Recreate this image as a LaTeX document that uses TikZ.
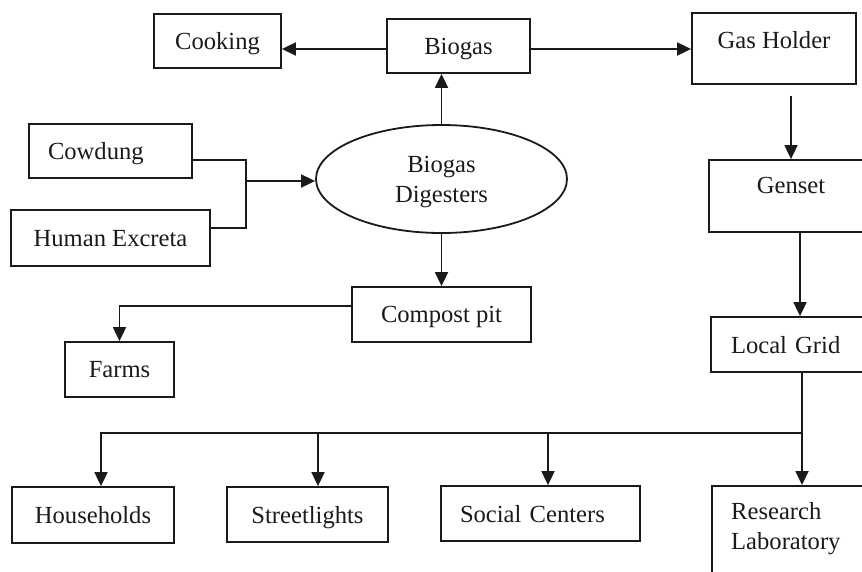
\documentclass[tikz,border=0pt]{standalone}
\usepackage{fontspec}
\setmainfont{Liberation Serif}
\usetikzlibrary{arrows.meta,shapes.geometric}
\definecolor{ink}{HTML}{1A1A1A}
\begin{document}
\begin{tikzpicture}[x=1pt,y=-1pt,
  inkline/.style={draw=ink, line width=1.8pt},
  txt/.style={font=\fontsize{24.6pt}{30pt}\selectfont, text=ink},
  box/.style={inkline, txt, rectangle, inner sep=0pt, align=center, text depth=0pt},
  arr/.style={inkline, -{Triangle[length=14pt,width=13pt]}},
  link/.style={inkline}]
\useasboundingbox (0,0) rectangle (862,571);
\clip (0,0) rectangle (862,571);

% top row
\node[box, minimum width=127pt, minimum height=54pt] (cooking) at (217.5,41) {Cooking};
\node[box, minimum width=143pt, minimum height=54pt] (biogas) at (458.5,46) {Biogas};
\node[box, minimum width=164pt, minimum height=71pt, text depth=17pt] (gasholder) at (774,48.5) {Gas Holder};

% feedstock and digester
\node[box, minimum width=163pt, minimum height=54pt, text width=125pt, inner xsep=19pt, align=left] (cowdung) at (110.5,151) {Cowdung};
\node[box, minimum width=199pt, minimum height=56pt] (human) at (110.5,238) {Human Excreta};
\node[box, ellipse, minimum width=251pt, minimum height=108pt] (digester) at (441.5,179) {Biogas\\Digesters};

% right column
\node[box, minimum width=164pt, minimum height=72pt, text depth=22pt] (genset) at (791,196) {Genset};
\node[box, minimum width=164pt, minimum height=55pt, text width=124pt, inner xsep=20pt, align=left] (localgrid) at (793,344.5) {Local Grid};

% compost
\node[box, minimum width=179pt, minimum height=55pt] (compost) at (441.5,314.5) {Compost pit};
\node[box, minimum width=109pt, minimum height=55pt] (farms) at (119.5,369.5) {Farms};

% consumers
\node[box, minimum width=162pt, minimum height=56pt] (households) at (93,515) {Households};
\node[box, minimum width=161pt, minimum height=55pt] (streetlights) at (307.5,514.5) {Streetlights};
\node[box, minimum width=199pt, minimum height=55pt, text width=161pt, inner xsep=19pt, align=left] (social) at (540.5,513.5) {Social Centers};
\node[box, anchor=north west, minimum width=164pt, minimum height=110pt] (research) at (711,485) {};
\node[txt, anchor=north west, align=left, inner sep=0pt] (researchtext) at (731,502) {Research\\Laboratory};

% biogas outputs
\draw[arr] ([yshift=-3pt]biogas.west) -- ([yshift=-8pt]cooking.east);
\draw[arr] ([yshift=-3pt]biogas.east) -- ([yshift=-0.5pt]gasholder.west);
\draw[arr] (digester.north) -- (digester.north |- biogas.south);
\draw[arr] (digester.south) -- (compost.north);

% feedstock merge
\coordinate (merge) at (246,181);
\draw[link] ([yshift=-9pt]cowdung.east) -| (merge) |- ([yshift=10pt]human.east);
\draw[arr] (merge) -- (merge -| digester.west);

% compost to farms
\draw[arr] ([yshift=8.5pt]compost.west) -| (farms.north);

% power chain
\draw[arr, shorten <=11pt] (genset.north |- gasholder.south) -- (genset.north);
\coordinate (gsout) at ([xshift=9pt]genset.south);
\draw[arr] (gsout) -- (gsout |- localgrid.north);
\coordinate (lgout) at ([xshift=9pt]localgrid.south);
\draw[arr] (lgout) -- (lgout |- research.north);

% distribution bus
\coordinate (bus) at (802,433);
\coordinate (hhin) at ([xshift=8pt]households.north);
\coordinate (slin) at ([xshift=10.5pt]streetlights.north);
\coordinate (scin) at ([xshift=7.5pt]social.north);
\draw[arr] (bus) -| (hhin);
\draw[arr] (slin |- bus) -- (slin);
\draw[arr] (scin |- bus) -- (scin);
\end{tikzpicture}
\end{document}
